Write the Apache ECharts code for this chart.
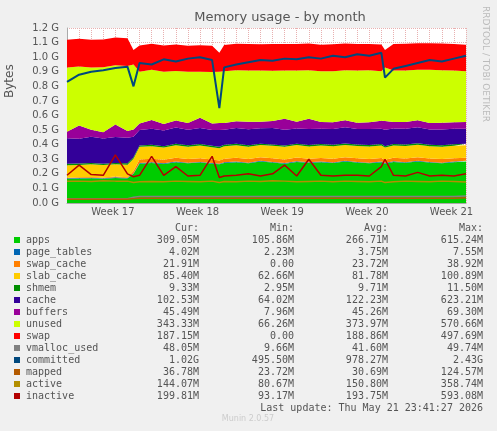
<!DOCTYPE html>
<html><head><meta charset="utf-8">
<script src="https://cdn.jsdelivr.net/npm/echarts@6/dist/echarts.min.js"></script>
<style>html,body{margin:0;padding:0;background:#F0F0F0}#c{width:497px;height:431px}</style>
</head><body><div id="c"></div>
<script>
const days = [0,1,2,3,4,5,5.5,6,7,8,9,10,11,12,12.6,13,14,15,16,17,18,19,20,21,22,23,24,25,26,26.3,27,28,29,30,31,32,33];
const weekTicks = [3.8,10.8,17.8,24.8,31.8];
const weekLabels = ['Week 17','Week 18','Week 19','Week 20','Week 21'];
const apps        = [165,168,170,166,172,168,200,270,275,268,280,272,278,270,265,275,280,272,285,278,270,282,276,280,274,285,278,272,280,270,282,276,285,278,272,280,285];
const page_tables = [4,4,4,4,4,4,4,4,4,4,4,4,4,4,4,4,4,4,4,4,4,4,4,4,4,4,4,4,4,4,4,4,4,4,4,4,4];
const swap_cache  = [5,5,5,5,5,5,15,25,25,24,26,25,25,24,22,25,26,25,24,25,25,26,24,25,25,24,25,26,25,22,24,25,25,24,25,23,22];
const slab_cache  = [85,84,86,85,84,85,85,86,85,84,86,85,87,85,84,85,86,85,84,85,86,85,84,85,86,85,84,85,86,84,85,86,85,84,85,86,85];
const shmem       = [10,10,10,10,10,10,10,10,10,10,10,10,10,10,10,10,10,10,10,10,10,10,10,10,10,10,10,10,10,10,10,10,10,10,10,10,10];
const cache       = [175,170,180,172,178,176,140,105,110,108,112,106,110,108,115,104,108,110,106,112,108,104,110,106,108,112,106,110,104,112,106,108,110,104,108,106,103];
const buffers     = [45,90,48,44,85,46,50,45,60,44,48,46,70,44,48,45,46,52,44,48,75,46,70,45,46,48,44,46,55,60,45,46,48,44,46,45,46];
const unused      = [441,405,427,445,407,446,446,355,345,358,339,352,316,354,352,356,350,351,352,345,331,352,332,349,351,342,358,357,340,368,352,354,347,366,360,355,349];
const swap        = [190,190,190,191,190,190,100,180,178,180,182,179,181,180,130,180,182,181,180,183,182,181,183,182,184,183,182,181,183,120,182,183,182,181,183,182,181];
const vmalloc_used= [30,30,30,30,30,30,40,45,45,45,45,45,45,45,45,45,45,45,45,45,45,45,45,45,45,45,45,45,45,45,45,45,45,45,45,45,48];
const committed   = [830,880,900,910,925,935,800,960,950,985,970,990,1000,980,650,930,950,965,980,975,990,985,1000,990,1010,1000,1020,1010,1030,860,920,940,960,980,970,990,1010];
const mapped      = [25,25,25,25,25,25,30,32,32,32,32,32,32,32,32,32,32,32,32,32,32,32,32,32,32,32,32,32,32,32,32,32,32,32,32,32,36];
const active      = [150,150,148,152,150,150,140,145,148,146,150,148,145,150,140,148,146,150,148,152,150,146,148,150,146,150,148,145,150,140,146,150,148,146,150,148,144];
const inactive    = [190,260,195,190,330,200,180,190,320,190,250,185,190,320,175,185,190,200,185,200,260,185,300,190,185,190,190,185,250,300,190,185,210,185,190,185,200];

const legendRows = [
 ['apps','#00CC00','309.05M','105.86M','266.71M','615.24M'],
 ['page_tables','#0066B3','4.02M','2.23M','3.75M','7.55M'],
 ['swap_cache','#FF8000','21.91M','0.00','23.72M','38.92M'],
 ['slab_cache','#FFCC00','85.40M','62.66M','81.78M','100.89M'],
 ['shmem','#008F00','9.33M','2.95M','9.71M','11.50M'],
 ['cache','#330099','102.53M','64.02M','122.23M','623.21M'],
 ['buffers','#990099','45.49M','7.96M','45.26M','69.30M'],
 ['unused','#CCFF00','343.33M','66.26M','373.97M','570.66M'],
 ['swap','#FF0000','187.15M','0.00','188.86M','497.69M'],
 ['vmalloc_used','#808080','48.05M','9.66M','41.60M','49.74M'],
 ['committed','#00487D','1.02G','495.50M','978.27M','2.43G'],
 ['mapped','#B35A00','36.78M','23.72M','30.69M','124.57M'],
 ['active','#B38F00','144.07M','80.67M','150.80M','358.74M'],
 ['inactive','#B30000','199.81M','93.17M','193.75M','593.08M']
];
const DAY = 86400000;
const stackData = {apps,page_tables,swap_cache,slab_cache,shmem,cache,buffers,unused,swap};
const lineData = {vmalloc_used,committed,mapped,active,inactive};
const colorOf = {}; legendRows.forEach(r=>colorOf[r[0]]=r[1]);

const series = [];
Object.keys(stackData).forEach(k=>{
  series.push({name:k,type:'line',stack:'m',symbol:'none',silent:true,z:1,
    data:days.map((d,i)=>[d*DAY,stackData[k][i]]),
    lineStyle:{width:0},areaStyle:{color:colorOf[k],opacity:1},itemStyle:{color:colorOf[k]}});
});
Object.keys(lineData).forEach(k=>{
  series.push({name:k,type:'line',symbol:'none',silent:true,z:3,
    data:days.map((d,i)=>[d*DAY,lineData[k][i]]),
    lineStyle:{width:k==='committed'?2:1.5,color:colorOf[k]},itemStyle:{color:colorOf[k]}});
});

const mono = 'DejaVu Sans Mono';
const g = [];
g.push({type:'text',x:280,y:18,style:{text:'Memory usage - by month',font:'13px "DejaVu Sans"',fill:'#555',align:'center',verticalAlign:'middle'}});
g.push({type:'text',x:490,y:6,rotation:-Math.PI/2,style:{text:'RRDTOOL / TOBI OETIKER',font:'9px "DejaVu Sans"',fill:'#bbb'}});
g.push({type:'text',x:4,y:98,rotation:Math.PI/2,style:{text:'Bytes',font:'12px "DejaVu Sans"',fill:'#555'}});
const cols=[199,294,388,483];
['Cur:','Min:','Avg:','Max:'].forEach((h,j)=>g.push({type:'text',x:cols[j],y:228,style:{text:h,font:'10px "'+mono+'"',fill:'#555',align:'right',verticalAlign:'middle'}}));
legendRows.forEach((r,i)=>{
  const y=240+i*12;
  g.push({type:'rect',shape:{x:14,y:y-3,width:6,height:6},style:{fill:r[1]}});
  g.push({type:'text',x:26,y:y,style:{text:r[0],font:'10px "'+mono+'"',fill:'#555',verticalAlign:'middle'}});
  for(let j=0;j<4;j++) g.push({type:'text',x:cols[j],y:y,style:{text:r[j+2],font:'10px "'+mono+'"',fill:'#555',align:'right',verticalAlign:'middle'}});
});
g.push({type:'text',x:483,y:408,style:{text:'Last update: Thu May 21 23:41:27 2026',font:'10px "'+mono+'"',fill:'#555',align:'right',verticalAlign:'middle'}});
g.push({type:'text',x:248,y:419,style:{text:'Munin 2.0.57',font:'8px "DejaVu Sans"',fill:'#ccc',align:'center',verticalAlign:'middle'}});
weekTicks.forEach((w,i)=>g.push({type:'text',x:67+w/33*399,y:212,style:{text:weekLabels[i],font:'10px "DejaVu Sans"',fill:'#555',align:'center',verticalAlign:'middle'}}));

const chart = echarts.init(document.getElementById('c'));
chart.setOption({
  backgroundColor:'#F0F0F0',animation:false,
  grid:{left:67,top:28,width:399,height:175,backgroundColor:'#fff',show:true,borderWidth:0},
  xAxis:[{type:'time',min:0,max:33*DAY,
    axisLine:{lineStyle:{color:'#aaa'}},axisTick:{show:false},
    splitLine:{show:false},axisLabel:{show:false}},
   {type:'value',min:0,max:33,interval:1,position:'bottom',
    axisLine:{show:false},axisTick:{show:false},axisLabel:{show:false},
    splitLine:{show:true,lineStyle:{color:'#e8b0b0',type:'dotted'}}}],
  yAxis:{type:'value',min:0,max:1200,interval:100,
    axisLine:{show:true,lineStyle:{color:'#aaa'}},axisTick:{show:false},
    splitLine:{lineStyle:{color:'#e8b0b0',type:'dotted'}},
    axisLabel:{color:'#555',fontSize:10,fontFamily:'DejaVu Sans',formatter:v=>(v/1000).toFixed(1)+' G'}},
  series:series,
  graphic:g
});
</script></body></html>
